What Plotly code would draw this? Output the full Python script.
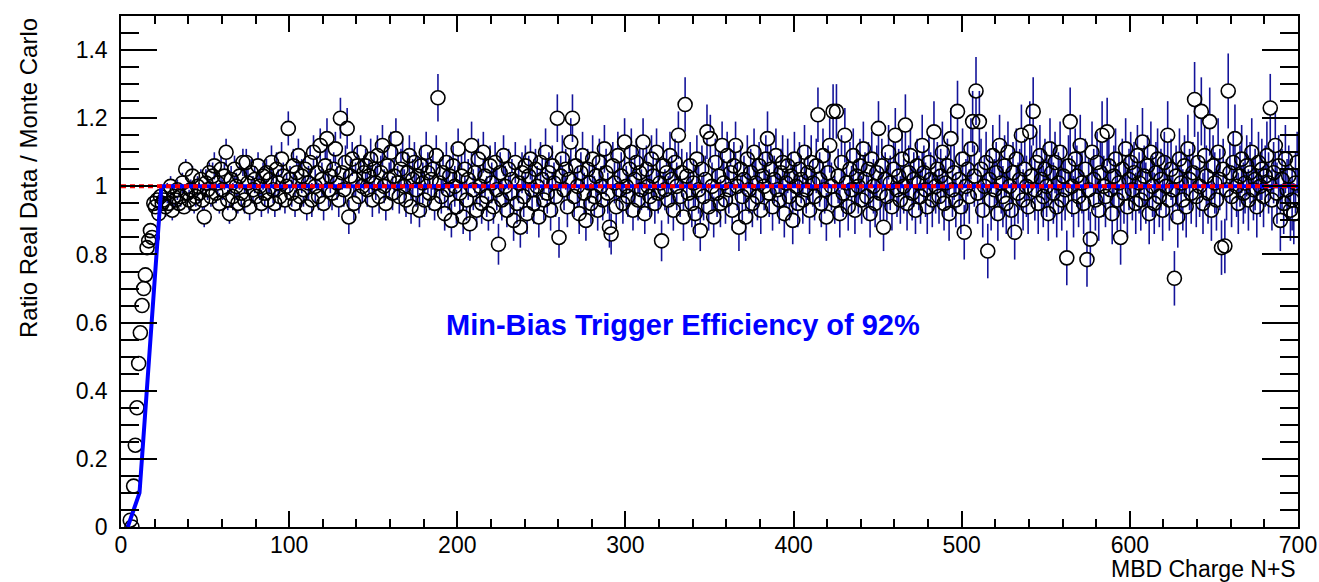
import numpy as np
import plotly.graph_objects as go

# ---------------- data ----------------
first_bin = 5  # first filled bin (bin width 1)

ratio = [
    0.02, 0.00, 0.12, 0.24, 0.35, 0.48, 0.57, 0.65, 0.70, 0.74, 0.82, 0.84, 0.87, 0.85, 0.95, 0.94, 0.96, 0.92, 0.97, 0.95,
    0.96, 0.94, 0.98, 0.95, 1.00, 0.93, 0.97, 0.96, 0.99, 0.95, 0.97, 1.01, 0.94, 1.05, 0.98, 0.96, 0.99, 1.03, 0.95, 0.97,
    1.00, 0.98, 1.02, 0.96, 0.91, 1.01, 0.99, 1.04, 0.97, 1.03, 1.06, 0.98, 1.01, 0.95, 1.05, 0.99, 1.03, 1.10, 0.96, 0.92,
    1.02, 0.97, 1.05, 1.00, 0.95, 1.03, 0.98, 1.07, 0.96, 1.07, 1.01, 0.94, 1.04, 0.99, 1.02, 0.97, 1.06, 1.00, 0.95, 1.03,
    0.98, 1.04, 0.96, 1.02, 1.07, 0.99, 0.95, 1.05, 1.01, 0.97, 1.08, 1.03, 0.96, 1.00, 1.17, 1.02, 0.98, 1.06, 0.95, 1.04,
    1.09, 0.97, 1.03, 0.99, 1.05, 0.94, 1.01, 1.07, 0.96, 1.10, 1.00, 1.04, 0.97, 1.12, 1.02, 0.95, 1.06, 1.14, 0.99, 1.03,
    0.98, 1.05, 1.11, 1.01, 0.96, 1.20, 1.04, 0.99, 1.07, 1.17, 0.91, 1.03, 1.08, 0.95, 1.02, 1.06, 0.97, 1.10, 1.00, 1.04,
    1.06, 0.99, 1.03, 1.08, 0.96, 1.05, 1.01, 1.09, 0.97, 1.04, 1.12, 1.00, 0.95, 1.06, 1.02, 1.10, 0.98, 1.03, 1.14, 1.01,
    0.97, 1.05, 1.08, 1.00, 0.96, 1.04, 1.09, 0.94, 1.02, 1.07, 0.99, 1.03, 0.93, 1.06, 1.01, 0.96, 1.10, 1.04, 0.98, 1.02,
    1.05, 0.95, 1.09, 1.26, 1.01, 0.97, 1.04, 0.92, 1.07, 0.99, 1.03, 0.90, 1.06, 1.00, 0.94, 1.11, 0.98, 1.03, 0.91, 1.05,
    0.96, 1.02, 0.89, 1.12, 0.99, 1.04, 0.93, 1.08, 1.00, 0.95, 1.10, 1.03, 0.97, 0.92, 1.06, 1.01, 0.94, 1.07, 0.99, 0.83,
    1.04, 0.96, 1.09, 1.00, 0.93, 1.05, 0.98, 1.02, 0.90, 1.07, 0.95, 1.01, 0.88, 1.04, 0.97, 1.06, 0.92, 1.03, 1.08, 0.99,
    0.95, 1.05, 1.00, 0.91, 1.07, 1.02, 0.96, 1.10, 0.98, 1.04, 0.93, 1.06, 1.01, 0.97, 1.20, 0.85, 1.03, 1.08, 0.99, 1.05,
    0.94, 1.02, 1.13, 1.20, 0.97, 1.06, 1.00, 0.92, 1.04, 1.09, 0.98, 0.90, 1.05, 1.01, 0.95, 1.08, 0.97, 1.03, 0.93, 1.07,
    1.00, 0.96, 1.11, 1.04, 0.98, 0.88, 0.86, 1.06, 1.01, 0.94, 1.09, 0.99, 1.03, 0.95, 1.13, 1.00, 0.97, 1.05, 1.10, 0.93,
    1.02, 1.07, 0.96, 1.04, 0.99, 1.13, 0.92, 1.05, 1.00, 0.97, 1.08, 1.03, 0.95, 1.10, 0.98, 1.01, 0.84, 1.06, 0.99, 1.04,
    0.96, 1.09, 1.02, 0.93, 1.07, 1.00, 1.15, 0.97, 1.04, 0.91, 1.24, 1.03, 0.98, 1.06, 0.95, 1.01, 0.92, 1.08, 0.99, 0.87,
    1.05, 0.97, 1.02, 1.16, 0.94, 1.14, 1.00, 0.91, 1.07, 0.98, 1.03, 0.95, 1.12, 1.01, 0.96, 1.09, 0.99, 1.04, 0.93, 1.06,
    1.12, 1.00, 0.88, 1.05, 0.97, 1.02, 0.91, 1.08, 0.99, 1.04, 0.95, 1.10, 1.01, 0.97, 1.06, 0.93, 1.03, 1.00, 1.08, 1.14,
    0.98, 1.05, 0.94, 1.02, 1.09, 0.99, 0.96, 1.04, 1.07, 0.92, 1.01, 1.06, 0.97, 1.03, 0.90, 1.08, 1.00, 0.95, 1.05, 1.02,
    0.96, 1.10, 0.99, 1.04, 0.93, 1.07, 1.01, 0.97, 1.06, 1.21, 1.02, 0.95, 1.09, 0.99, 0.91, 1.04, 1.12, 1.00, 1.22, 0.96,
    1.22, 1.03, 0.92, 1.07, 0.98, 1.15, 1.01, 0.94, 1.05, 0.99, 1.09, 0.93, 1.03, 1.00, 1.06, 0.96, 1.11, 1.02, 0.97, 1.05,
    0.92, 1.08, 1.00, 0.95, 1.04, 1.17, 0.98, 1.06, 0.88, 1.02, 0.97, 1.10, 1.01, 0.94, 1.05, 1.15, 0.99, 1.03, 0.96, 1.08,
    1.00, 1.18, 0.95, 1.04, 1.09, 0.98, 1.02, 0.93, 1.06, 1.01, 0.97, 1.12, 1.04, 0.99, 0.94, 1.07, 1.02, 0.96, 1.16, 1.00,
    1.05, 0.97, 1.03, 1.10, 0.95, 1.01, 1.06, 0.92, 1.14, 0.99, 1.04, 0.96, 1.22, 1.02, 0.94, 1.08, 0.865, 1.00, 1.05, 0.97,
    1.11, 1.19, 1.03, 1.28, 0.98, 1.19, 1.05, 0.93, 1.00, 1.07, 0.81, 1.02, 0.96, 1.09, 0.99, 1.04, 0.92, 1.12, 1.01, 0.97,
    1.06, 0.95, 1.10, 1.00, 0.93, 1.04, 0.865, 1.08, 0.98, 1.02, 1.15, 0.96, 1.05, 1.00, 0.94, 1.16, 1.03, 1.22, 0.99, 1.07,
    0.95, 1.09, 1.02, 0.97, 1.05, 1.00, 0.92, 1.11, 1.04, 0.98, 1.07, 0.94, 1.01, 1.10, 0.96, 1.03, 0.99, 0.79, 1.06, 1.19,
    1.00, 0.94, 1.08, 1.03, 0.97, 1.12, 1.01, 0.95, 1.05, 0.785, 0.99, 0.845, 1.10, 1.02, 0.96, 1.07, 0.93, 1.04, 1.15, 1.00,
    0.97, 1.16, 1.06, 0.99, 0.92, 1.03, 1.08, 0.96, 1.01, 0.85, 1.05, 0.98, 1.11, 0.94, 1.02, 1.07, 0.99, 1.04, 0.95, 1.09,
    1.01, 0.96, 1.13, 1.03, 0.98, 1.06, 0.92, 1.10, 1.00, 0.95, 1.04, 1.08, 0.97, 1.02, 0.93, 1.07, 1.00, 1.15, 0.96, 1.05,
    0.99, 0.73, 1.03, 0.91, 1.08, 1.01, 0.96, 1.06, 0.94, 1.11, 1.02, 0.98, 1.04, 1.255, 0.97, 1.07, 1.00, 1.22, 0.95, 1.09,
    1.03, 0.98, 1.19, 0.93, 1.06, 1.01, 0.96, 1.10, 1.02, 0.82, 1.05, 0.825, 0.99, 1.28, 1.04, 0.97, 1.07, 1.14, 1.00, 0.95,
    1.03, 1.08, 0.98, 1.01, 1.06, 0.96, 1.04, 1.10, 0.99, 1.02, 0.94, 1.07, 1.00, 1.05, 0.97, 1.03, 1.09, 1.01, 1.23, 0.96,
    1.04, 1.12, 0.98, 1.06, 0.90, 1.02, 0.95, 1.08, 0.99, 1.03, 0.93, 0.96, 0.92, 1.01, 1.07,
]

# statistical errors, in units of 0.01
err_hundredths = [
    1, 1, 1, 1, 1, 1, 1, 1, 2, 2, 2, 2, 2, 2, 2, 2, 2, 2, 2, 2,
    2, 3, 3, 2, 3, 3, 3, 2, 3, 3, 3, 3, 2, 3, 3, 3, 3, 3, 3, 3,
    3, 3, 3, 3, 3, 4, 3, 3, 3, 4, 4, 3, 3, 3, 4, 3, 4, 4, 3, 3,
    4, 4, 4, 4, 3, 4, 4, 4, 4, 4, 4, 4, 4, 4, 4, 4, 4, 4, 4, 4,
    4, 4, 4, 4, 5, 4, 4, 5, 4, 4, 5, 4, 4, 4, 5, 4, 4, 5, 4, 5,
    5, 4, 5, 5, 5, 4, 5, 5, 5, 5, 5, 5, 4, 5, 5, 5, 5, 6, 5, 5,
    5, 5, 5, 5, 5, 6, 5, 5, 5, 6, 5, 5, 5, 5, 5, 6, 5, 5, 5, 5,
    5, 5, 5, 6, 5, 5, 5, 6, 5, 5, 6, 5, 5, 6, 5, 6, 5, 5, 6, 5,
    5, 6, 6, 5, 5, 6, 6, 5, 6, 6, 5, 6, 5, 6, 6, 5, 6, 6, 5, 6,
    6, 5, 6, 7, 6, 5, 6, 5, 6, 6, 6, 5, 6, 6, 5, 6, 6, 6, 5, 6,
    6, 6, 5, 7, 6, 6, 5, 6, 6, 6, 6, 6, 6, 5, 6, 6, 5, 6, 6, 6,
    6, 6, 6, 6, 5, 6, 6, 6, 6, 6, 6, 6, 6, 6, 6, 6, 6, 6, 6, 6,
    6, 6, 6, 6, 6, 6, 6, 7, 6, 6, 6, 6, 6, 6, 7, 6, 6, 7, 6, 6,
    6, 6, 7, 7, 6, 6, 6, 6, 6, 7, 6, 6, 6, 6, 6, 7, 6, 6, 6, 7,
    6, 6, 7, 7, 6, 6, 6, 7, 6, 6, 7, 6, 7, 6, 7, 6, 6, 7, 7, 6,
    7, 7, 6, 7, 6, 7, 6, 7, 7, 6, 7, 7, 6, 7, 6, 7, 6, 7, 6, 7,
    7, 7, 7, 6, 7, 7, 7, 6, 7, 7, 8, 7, 6, 7, 7, 7, 6, 7, 7, 6,
    7, 7, 7, 8, 7, 7, 7, 6, 7, 7, 7, 7, 7, 7, 7, 7, 7, 7, 6, 7,
    7, 7, 7, 7, 7, 7, 7, 7, 7, 7, 7, 7, 7, 7, 7, 7, 7, 7, 7, 8,
    7, 7, 7, 7, 8, 7, 7, 7, 8, 7, 7, 8, 7, 7, 7, 8, 7, 7, 8, 7,
    7, 8, 7, 8, 7, 8, 7, 7, 8, 8, 8, 7, 8, 7, 7, 8, 8, 7, 8, 7,
    8, 8, 7, 8, 7, 8, 8, 7, 8, 7, 8, 7, 8, 8, 8, 7, 8, 8, 7, 8,
    7, 8, 8, 7, 8, 8, 8, 8, 7, 8, 7, 8, 8, 7, 8, 8, 8, 8, 7, 8,
    8, 9, 8, 8, 8, 8, 8, 7, 8, 8, 8, 9, 8, 8, 8, 8, 8, 8, 9, 8,
    8, 8, 8, 9, 8, 8, 8, 8, 9, 8, 8, 8, 9, 8, 8, 9, 8, 8, 8, 8,
    9, 9, 9, 10, 9, 9, 9, 8, 9, 9, 8, 9, 9, 9, 9, 9, 8, 9, 9, 9,
    9, 9, 9, 9, 8, 9, 8, 9, 9, 9, 9, 9, 9, 9, 8, 9, 9, 10, 9, 9,
    9, 9, 9, 9, 9, 9, 8, 9, 9, 9, 9, 9, 9, 9, 9, 9, 9, 8, 9, 10,
    9, 9, 9, 9, 9, 9, 9, 9, 9, 8, 9, 8, 9, 9, 9, 9, 9, 9, 10, 9,
    9, 10, 9, 9, 9, 9, 9, 9, 9, 8, 9, 9, 9, 9, 9, 9, 9, 9, 9, 9,
    9, 9, 10, 9, 9, 9, 9, 9, 9, 9, 9, 9, 9, 9, 9, 9, 9, 10, 9, 9,
    9, 8, 9, 9, 9, 9, 9, 9, 9, 10, 9, 9, 9, 11, 9, 9, 9, 10, 9, 9,
    9, 9, 10, 9, 9, 9, 9, 10, 9, 8, 9, 8, 9, 11, 9, 9, 9, 10, 9, 9,
    9, 10, 9, 9, 9, 9, 9, 10, 9, 9, 9, 9, 9, 9, 9, 9, 10, 9, 10, 9,
    9, 10, 9, 9, 9, 9, 9, 10, 9, 9, 9, 9, 9, 9, 9,
]

# trigger-efficiency fit curve (blue) and unity reference (red dotted)
fit_x = [4, 11, 24, 700]
fit_y = [0.0, 0.10, 1.0, 1.0]
ref_x = [0, 700]
ref_y = [1.0, 1.0]

x_ticks = [0, 100, 200, 300, 400, 500, 600, 700]
y_ticks = [0, 0.2, 0.4, 0.6, 0.8, 1.0, 1.2, 1.4]
y_tick_text = ["0", "0.2", "0.4", "0.6", "0.8", "1", "1.2", "1.4"]

label_text = "Min-Bias Trigger Efficiency of 92%"
label_pos = (334, 0.593)

# ---------------- figure ----------------
W, H = 1319, 582
ML, MR, MT, MB = 121, 21, 16, 55
plot_h = H - MT - MB
y_range = [0, 1.5]
px_per_unit = plot_h / (y_range[1] - y_range[0])

n = min(len(ratio), len(err_hundredths))
xv = np.arange(first_bin, first_bin + n) + 0.5
yv = np.array(ratio[:n], dtype=float)
ev = np.array(err_hundredths[:n], dtype=float) / 100.0

marker_size = 14
r_gap = (marker_size / 2) / px_per_unit

seg_x, seg_y = [], []
for xi, yi, ei in zip(xv, yv, ev):
    if ei > r_gap:
        seg_x += [xi, xi, None, xi, xi, None]
        seg_y += [yi + r_gap, yi + ei, None, yi - r_gap, yi - ei, None]

fig = go.Figure()
fig.add_trace(go.Scatter(
    x=seg_x, y=seg_y, mode="lines",
    line=dict(color="#14149a", width=1.6),
    hoverinfo="skip", showlegend=False,
))
fig.add_trace(go.Scatter(
    x=xv, y=yv, mode="markers",
    marker=dict(symbol="circle-open", size=marker_size, color="black",
                line=dict(color="black", width=1.6)),
    showlegend=False,
))
fig.add_trace(go.Scatter(
    x=fit_x, y=fit_y, mode="lines",
    line=dict(color="#0000ff", width=4),
    showlegend=False,
))
fig.add_trace(go.Scatter(
    x=ref_x, y=ref_y, mode="lines",
    line=dict(color="#ff0000", width=4, dash="5px,4px"),
    showlegend=False,
))

font_family = "Liberation Sans, Arial, Helvetica, sans-serif"

fig.add_annotation(
    x=label_pos[0], y=label_pos[1], xref="x", yref="y",
    text="<b>" + label_text + "</b>", showarrow=False,
    font=dict(family=font_family, size=29, color="#0000ff"),
    xanchor="center", yanchor="middle",
)
fig.add_annotation(
    x=1.0, y=(0 - 42) / plot_h, xref="paper", yref="paper",
    text="MBD Charge N+S", showarrow=False,
    font=dict(family=font_family, size=23, color="black"),
    xanchor="right", yanchor="middle",
)
fig.add_annotation(
    x=(28 - ML) / (W - ML - MR), y=1.0, xref="paper", yref="paper",
    text="Ratio Real Data / Monte Carlo", showarrow=False, textangle=-90,
    font=dict(family=font_family, size=24, color="black"),
    xanchor="center", yanchor="top",
)

axis_common = dict(
    showgrid=False, zeroline=False, showline=True, linecolor="black",
    linewidth=1.5, mirror="ticks", ticks="inside", tickcolor="black",
    tickwidth=1.5, automargin=False,
    tickfont=dict(family=font_family, size=23, color="black"),
)

fig.update_xaxes(
    range=[0, 700], tickvals=x_ticks, ticklen=16, ticklabelstandoff=-3,
    minor=dict(dtick=20, ticklen=8, ticks="inside", tickcolor="black",
               tickwidth=1.5, showgrid=False),
    **axis_common,
)
fig.update_yaxes(
    range=y_range, tickvals=y_ticks, ticktext=y_tick_text, ticklen=36,
    ticklabelstandoff=7,
    minor=dict(dtick=0.05, ticklen=18, ticks="inside", tickcolor="black",
               tickwidth=1.5, showgrid=False),
    **axis_common,
)

fig.update_layout(
    width=W, height=H,
    margin=dict(l=ML, r=MR, t=MT, b=MB, autoexpand=False),
    paper_bgcolor="white", plot_bgcolor="white",
    showlegend=False,
)

fig.write_html("out.html")
